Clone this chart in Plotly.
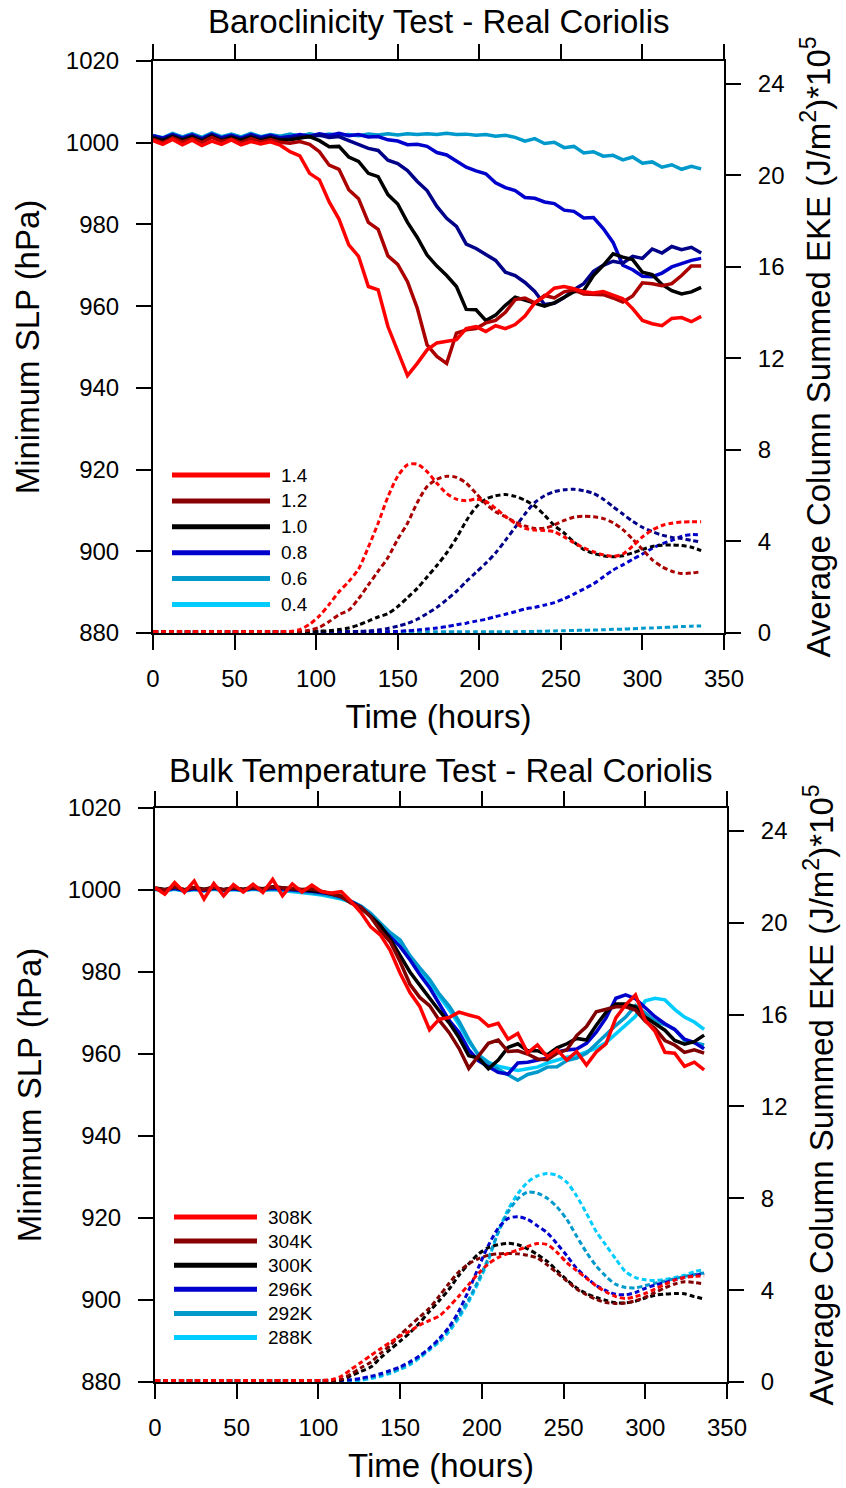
import plotly.graph_objects as go

FIG_W, FIG_H = 846, 1488
FONT = "Liberation Sans, Arial, Helvetica, sans-serif"

# ---------------------------------------------------------------- data
hours = list(range(0, 337, 6))

x_ticks = [0, 50, 100, 150, 200, 250, 300, 350]
slp_ticks = [880, 900, 920, 940, 960, 980, 1000, 1020]
eke_ticks = [0, 4, 8, 12, 16, 20, 24]

# Baroclinicity test: minimum SLP (hPa)
baro_slp_14 = [
    1000.5, 999.6, 1000.8, 999.5, 1000.6, 999.3, 1000.4, 999.6, 1000.7, 999.5,
    1000.3, 999.7, 1000.2, 999.4, 997.8, 996.8, 992.5, 990.9, 985.5, 981.3,
    975.0, 972.2, 964.8, 964.0, 955.0, 949.0, 943.0, 946.0, 949.3, 951.0,
    951.5, 951.8, 954.5, 955.0, 953.8, 955.2, 954.5, 955.5, 957.6, 960.8,
    962.4, 964.4, 964.8, 964.3, 963.5, 963.2, 963.6, 962.8, 961.8, 959.4,
    956.5, 955.7, 955.2, 957.0, 957.2, 956.2, 957.5]
baro_slp_12 = [
    1000.8, 1000.0, 1001.2, 1000.2, 1001.0, 1000.1, 1001.3, 1000.3, 1000.9, 1000.0,
    1001.0, 1000.2, 1000.8, 1000.1, 999.9, 1000.3, 999.6, 997.8, 994.5, 993.5,
    988.5, 986.3, 980.5, 978.8, 972.3, 970.2, 966.0, 959.5, 950.5, 947.7,
    946.0, 953.4, 954.2, 954.5, 955.9, 956.5, 958.5, 961.6, 962.0, 960.8,
    962.6, 962.0, 963.5, 964.0, 963.0, 963.0, 962.8, 962.0, 961.0, 962.5,
    965.7, 965.5, 965.0, 965.5, 967.5, 969.8, 969.8]
baro_slp_10 = [
    1001.2, 1000.5, 1001.5, 1000.6, 1001.4, 1000.4, 1001.6, 1000.5, 1001.3, 1000.6,
    1001.4, 1000.5, 1001.2, 1000.6, 1000.7, 1001.2, 1001.5, 1000.5, 999.0, 999.1,
    996.5, 995.4, 992.5, 991.7, 987.3, 985.0, 980.5, 976.8, 972.5, 969.8,
    967.5, 964.8, 959.2, 959.1, 956.5, 957.8, 960.2, 962.2, 961.5, 960.6,
    960.0, 960.8, 962.2, 963.5, 963.8, 967.5, 970.0, 972.8, 972.0, 971.4,
    968.3, 967.7, 965.3, 963.8, 963.0, 963.5, 964.6]
baro_slp_08 = [
    1001.4, 1000.8, 1001.8, 1000.9, 1001.6, 1000.8, 1001.9, 1000.9, 1001.5, 1000.8,
    1001.7, 1001.0, 1001.5, 1001.0, 1001.1, 1001.6, 1001.4, 1001.9, 1001.3, 1001.5,
    1000.5, 999.6, 998.6, 998.1, 995.7, 994.9, 993.2, 990.5, 988.3, 984.4,
    981.5, 979.5, 975.2, 974.1, 972.6, 971.2, 968.3, 967.5, 965.8, 963.6,
    960.4, 960.7, 962.1, 964.0, 965.5, 968.5, 970.0, 971.0, 970.5, 972.2,
    971.7, 974.0, 973.0, 974.6, 973.8, 974.4, 973.0]
baro_slp_06 = [
    1001.7, 1001.1, 1002.0, 1001.2, 1001.9, 1001.0, 1002.1, 1001.2, 1001.8, 1001.1,
    1002.0, 1001.3, 1001.8, 1001.2, 1001.5, 1002.0, 1001.6, 1002.2, 1001.8, 1002.3,
    1001.7, 1002.0, 1001.4, 1001.5, 1000.7, 1000.4, 999.5, 999.6, 999.1, 997.6,
    997.0, 995.5, 994.0, 993.1, 992.4, 990.2, 989.0, 988.3, 986.6, 986.4,
    985.5, 985.1, 983.5, 983.2, 981.6, 981.7, 979.0, 975.6, 970.0, 968.9,
    967.3, 967.2, 968.1, 969.6, 970.4, 971.2, 971.7]
baro_slp_04 = [
    1001.8, 1001.2, 1002.3, 1001.4, 1002.2, 1001.3, 1002.4, 1001.5, 1002.1, 1001.4,
    1002.3, 1001.5, 1002.0, 1001.6, 1002.1, 1001.6, 1002.2, 1001.7, 1002.1, 1001.8,
    1002.0, 1001.7, 1002.1, 1001.9, 1002.2, 1001.9, 1002.2, 1002.0, 1002.2, 1002.0,
    1002.3, 1002.0, 1002.1, 1001.8, 1002.0, 1001.6, 1001.8, 1001.3, 1000.4, 1001.0,
    999.8, 1000.1, 998.8, 999.1, 997.5, 997.8, 996.7, 996.9, 995.8, 996.5,
    995.0, 995.3, 994.0, 994.6, 993.5, 994.2, 993.6]

# Baroclinicity test: average column summed EKE (J/m^2 * 1e5)
baro_eke_14 = [
    0.06, 0.06, 0.06, 0.06, 0.06, 0.06, 0.06, 0.06, 0.06, 0.06,
    0.06, 0.06, 0.06, 0.06, 0.07, 0.15, 0.38, 0.75, 1.25, 1.80,
    2.25, 2.80, 3.75, 4.80, 5.95, 6.85, 7.35, 7.38, 7.05, 6.55,
    6.10, 5.85, 5.78, 5.85, 5.75, 5.45, 5.10, 4.80, 4.58, 4.50,
    4.48, 4.42, 4.20, 3.95, 3.72, 3.55, 3.42, 3.35, 3.45, 3.80,
    4.20, 4.50, 4.70, 4.80, 4.85, 4.86, 4.86]
baro_eke_12 = [
    0.06, 0.06, 0.06, 0.06, 0.06, 0.06, 0.06, 0.06, 0.06, 0.06,
    0.06, 0.06, 0.06, 0.06, 0.06, 0.07, 0.12, 0.25, 0.50, 0.80,
    1.00, 1.50, 2.10, 2.70, 3.30, 4.10, 4.80, 5.70, 6.40, 6.72,
    6.85, 6.80, 6.55, 6.10, 5.65, 5.30, 5.08, 4.85, 4.68, 4.57,
    4.58, 4.72, 4.92, 5.06, 5.10, 5.08, 5.00, 4.82, 4.52, 4.10,
    3.65, 3.20, 2.90, 2.70, 2.60, 2.62, 2.68]
baro_eke_10 = [
    0.06, 0.06, 0.06, 0.06, 0.06, 0.06, 0.06, 0.06, 0.06, 0.06,
    0.06, 0.06, 0.06, 0.06, 0.06, 0.06, 0.07, 0.08, 0.10, 0.15,
    0.22, 0.35, 0.52, 0.70, 0.85, 1.15, 1.55, 1.95, 2.45, 2.95,
    3.50, 4.15, 4.90, 5.50, 5.85, 6.00, 6.05, 5.97, 5.80, 5.55,
    5.15, 4.70, 4.37, 3.98, 3.65, 3.48, 3.38, 3.33, 3.38, 3.50,
    3.65, 3.78, 3.84, 3.85, 3.82, 3.75, 3.60]
baro_eke_08 = [
    0.06, 0.06, 0.06, 0.06, 0.06, 0.06, 0.06, 0.06, 0.06, 0.06,
    0.06, 0.06, 0.06, 0.06, 0.06, 0.06, 0.06, 0.06, 0.06, 0.06,
    0.06, 0.07, 0.09, 0.13, 0.20, 0.30, 0.42, 0.60, 0.85, 1.12,
    1.45, 1.82, 2.25, 2.65, 3.05, 3.50, 4.05, 4.62, 5.20, 5.70,
    6.00, 6.18, 6.26, 6.28, 6.22, 6.10, 5.85, 5.52, 5.20, 4.88,
    4.62, 4.43, 4.28, 4.18, 4.13, 4.05, 3.98]
baro_eke_06 = [
    0.06, 0.06, 0.06, 0.06, 0.06, 0.06, 0.06, 0.06, 0.06, 0.06,
    0.06, 0.06, 0.06, 0.06, 0.06, 0.06, 0.06, 0.06, 0.06, 0.06,
    0.06, 0.06, 0.06, 0.06, 0.06, 0.07, 0.10, 0.13, 0.17, 0.22,
    0.28, 0.36, 0.43, 0.52, 0.60, 0.72, 0.82, 0.93, 1.05, 1.12,
    1.22, 1.33, 1.50, 1.70, 1.92, 2.15, 2.45, 2.75, 2.98, 3.22,
    3.45, 3.70, 3.90, 4.05, 4.22, 4.30, 4.28]
baro_eke_04 = [
    0.06, 0.06, 0.06, 0.06, 0.06, 0.06, 0.06, 0.06, 0.06, 0.06,
    0.06, 0.06, 0.06, 0.06, 0.06, 0.06, 0.06, 0.06, 0.06, 0.06,
    0.06, 0.06, 0.06, 0.06, 0.06, 0.06, 0.06, 0.06, 0.06, 0.06,
    0.06, 0.06, 0.06, 0.06, 0.06, 0.06, 0.06, 0.06, 0.07, 0.07,
    0.08, 0.09, 0.10, 0.11, 0.12, 0.13, 0.14, 0.16, 0.17, 0.19,
    0.21, 0.22, 0.24, 0.26, 0.28, 0.30, 0.31]

# Bulk temperature test: minimum SLP (hPa)
bulk_slp_308 = [
    1000.6, 999.0, 1001.8, 999.4, 1002.2, 997.8, 1001.6, 998.6, 1001.3, 999.5,
    1001.4, 999.4, 1002.6, 998.6, 1001.5, 999.5, 1001.2, 999.6, 999.3, 999.6,
    997.2, 994.5, 991.0, 989.0, 985.2, 979.7, 975.0, 971.6, 965.9, 968.5,
    968.9, 970.2, 969.5, 968.9, 966.8, 967.5, 963.6, 965.0, 960.3, 962.2,
    959.3, 961.0, 958.5, 960.6, 957.3, 960.5, 962.5, 968.8, 972.0, 974.4,
    968.2, 965.5, 960.4, 960.2, 957.0, 958.0, 956.1]
bulk_slp_304 = [
    1000.4, 1000.0, 1000.8, 1000.0, 1000.6, 1000.1, 1000.7, 1000.0, 1000.6, 1000.1,
    1000.6, 1000.2, 1000.7, 1000.5, 1000.5, 1000.1, 1000.3, 999.6, 999.0, 998.4,
    996.8, 995.8, 993.4, 990.0, 987.3, 982.5, 977.0, 973.8, 971.8, 968.2,
    965.2, 961.4, 956.5, 959.5, 962.6, 963.4, 960.6, 960.8, 960.0, 958.8,
    958.6, 960.2, 961.0, 964.5, 966.7, 970.3, 971.0, 971.5, 971.5, 970.7,
    968.0, 966.2, 963.3, 962.2, 960.4, 961.0, 960.2]
bulk_slp_300 = [
    1000.5, 1000.1, 1000.7, 1000.1, 1000.6, 1000.2, 1000.6, 1000.1, 1000.5, 1000.2,
    1000.6, 1000.3, 1000.8, 1000.6, 1000.4, 1000.2, 1000.0, 999.6, 999.0, 998.5,
    997.0, 995.6, 993.6, 991.3, 988.0, 984.0, 980.0, 976.8, 973.6, 970.5,
    967.6, 964.0, 959.6, 959.0, 956.4, 958.5, 961.6, 962.5, 960.8, 960.8,
    959.8, 961.5, 962.5, 963.8, 963.4, 967.0, 970.2, 972.2, 972.2, 971.5,
    969.0, 967.5, 965.8, 963.3, 962.4, 963.0, 964.6]
bulk_slp_296 = [
    1000.3, 1000.0, 1000.4, 999.9, 1000.3, 999.9, 1000.4, 1000.0, 1000.3, 1000.0,
    1000.4, 1000.1, 1000.4, 1000.3, 1000.2, 999.9, 999.7, 999.4, 999.0, 998.3,
    997.2, 995.8, 993.6, 991.0, 988.6, 986.2, 983.0, 979.4, 976.2, 972.0,
    968.2, 965.3, 961.0, 958.3, 957.0, 955.5, 955.1, 957.8, 958.0, 958.6,
    959.0, 960.5, 961.0, 961.2, 962.6, 965.3, 968.8, 973.6, 974.4, 973.5,
    971.4, 969.1, 967.4, 966.0, 963.6, 962.8, 961.3]
bulk_slp_292 = [
    1000.2, 999.9, 1000.3, 999.8, 1000.2, 999.8, 1000.3, 999.9, 1000.2, 999.9,
    1000.3, 1000.0, 1000.2, 1000.1, 999.9, 999.6, 999.4, 999.0, 998.6, 998.0,
    997.3, 996.1, 994.3, 991.9, 989.6, 987.8, 984.0, 981.0, 978.2, 974.6,
    971.7, 968.0, 963.5, 959.6, 957.8, 956.3, 955.0, 953.6, 955.0, 955.6,
    956.8, 956.9, 958.4, 959.0, 960.2, 962.5, 964.6, 967.0, 969.0, 971.8,
    970.0, 968.0, 967.2, 966.0, 963.3, 962.8, 962.2]
bulk_slp_288 = [
    1000.1, 999.8, 1000.2, 999.7, 1000.1, 999.8, 1000.2, 999.8, 1000.1, 999.8,
    1000.2, 999.9, 1000.1, 999.9, 999.7, 999.4, 999.1, 998.8, 998.3, 997.8,
    997.0, 995.8, 993.8, 991.5, 989.2, 987.0, 983.5, 980.5, 977.5, 974.0,
    970.8, 967.2, 963.0, 959.8, 958.0, 957.0, 956.4, 956.0, 956.4, 956.8,
    957.8, 958.5, 959.2, 959.6, 960.4, 961.4, 962.8, 964.9, 967.0, 969.2,
    973.0, 973.6, 973.2, 970.9, 969.0, 967.8, 966.0]

# Bulk temperature test: average column summed EKE (J/m^2 * 1e5)
bulk_eke_308 = [
    0.06, 0.06, 0.06, 0.06, 0.06, 0.06, 0.06, 0.06, 0.06, 0.06,
    0.06, 0.06, 0.06, 0.06, 0.06, 0.06, 0.06, 0.07, 0.10, 0.25,
    0.55, 0.85, 1.15, 1.45, 1.73, 2.00, 2.22, 2.48, 2.68, 2.88,
    3.28, 3.75, 4.25, 4.73, 5.15, 5.42, 5.60, 5.75, 5.90, 6.03,
    5.98, 5.65, 5.20, 4.85, 4.52, 4.18, 3.92, 3.72, 3.64, 3.72,
    3.86, 4.05, 4.25, 4.44, 4.55, 4.60, 4.62]
bulk_eke_304 = [
    0.06, 0.06, 0.06, 0.06, 0.06, 0.06, 0.06, 0.06, 0.06, 0.06,
    0.06, 0.06, 0.06, 0.06, 0.06, 0.06, 0.06, 0.06, 0.07, 0.12,
    0.35, 0.62, 0.86, 1.25, 1.60, 2.05, 2.45, 2.84, 3.22, 3.75,
    4.30, 4.80, 5.15, 5.37, 5.52, 5.58, 5.60, 5.58, 5.52, 5.40,
    5.10, 4.75, 4.40, 4.05, 3.80, 3.60, 3.46, 3.42, 3.44, 3.54,
    3.70, 3.90, 4.10, 4.27, 4.37, 4.33, 4.27]
bulk_eke_300 = [
    0.06, 0.06, 0.06, 0.06, 0.06, 0.06, 0.06, 0.06, 0.06, 0.06,
    0.06, 0.06, 0.06, 0.06, 0.06, 0.06, 0.06, 0.06, 0.06, 0.09,
    0.28, 0.46, 0.65, 1.05, 1.42, 1.78, 2.15, 2.58, 3.08, 3.55,
    4.05, 4.65, 5.15, 5.58, 5.85, 5.98, 6.04, 5.98, 5.80, 5.55,
    5.25, 4.85, 4.45, 4.10, 3.85, 3.68, 3.55, 3.45, 3.45, 3.52,
    3.66, 3.78, 3.83, 3.85, 3.84, 3.72, 3.62]
bulk_eke_296 = [
    0.06, 0.06, 0.06, 0.06, 0.06, 0.06, 0.06, 0.06, 0.06, 0.06,
    0.06, 0.06, 0.06, 0.06, 0.06, 0.06, 0.06, 0.06, 0.06, 0.07,
    0.10, 0.16, 0.25, 0.36, 0.50, 0.66, 0.88, 1.15, 1.48, 1.90,
    2.40, 3.10, 4.00, 5.00, 5.95, 6.70, 7.12, 7.20, 7.08, 6.80,
    6.50, 6.02, 5.50, 4.95, 4.55, 4.20, 3.98, 3.82, 3.80, 3.90,
    4.08, 4.22, 4.34, 4.45, 4.55, 4.65, 4.72]
bulk_eke_292 = [
    0.06, 0.06, 0.06, 0.06, 0.06, 0.06, 0.06, 0.06, 0.06, 0.06,
    0.06, 0.06, 0.06, 0.06, 0.06, 0.06, 0.06, 0.06, 0.06, 0.07,
    0.08, 0.12, 0.20, 0.30, 0.42, 0.60, 0.82, 1.10, 1.45, 1.82,
    2.30, 2.90, 3.60, 4.45, 5.40, 6.50, 7.40, 7.98, 8.27, 8.22,
    8.00, 7.62, 7.08, 6.35, 5.65, 5.05, 4.60, 4.25, 4.12, 4.10,
    4.20, 4.30, 4.40, 4.50, 4.60, 4.68, 4.75]
bulk_eke_288 = [
    0.06, 0.06, 0.06, 0.06, 0.06, 0.06, 0.06, 0.06, 0.06, 0.06,
    0.06, 0.06, 0.06, 0.06, 0.06, 0.06, 0.06, 0.06, 0.06, 0.06,
    0.06, 0.08, 0.15, 0.25, 0.38, 0.55, 0.75, 1.05, 1.40, 1.75,
    2.20, 2.80, 3.50, 4.35, 5.30, 6.55, 7.50, 8.20, 8.70, 8.98,
    9.08, 9.00, 8.70, 8.10, 7.35, 6.55, 5.95, 5.35, 4.80, 4.55,
    4.45, 4.42, 4.47, 4.55, 4.65, 4.80, 4.90]

# legend entries (label, swatch colour) for each panel
baro_labels = ["1.4", "1.2", "1.0", "0.8", "0.6", "0.4"]
bulk_labels = ["308K", "304K", "300K", "296K", "292K", "288K"]
legend_colors = ["#FF0000", "#880000", "#000000", "#0000CC", "#0099CC", "#00CCFF"]

# colours of the plotted curves
baro_colors = ["#FF0000", "#AA0000", "#000000", "#000088", "#0000CC", "#0099CC"]
bulk_colors = ["#FF0000", "#800000", "#000000", "#0000CC", "#0099CC", "#00CCFF"]

baro_slp = [baro_slp_14, baro_slp_12, baro_slp_10, baro_slp_08, baro_slp_06, baro_slp_04]
baro_eke = [baro_eke_14, baro_eke_12, baro_eke_10, baro_eke_08, baro_eke_06, baro_eke_04]
bulk_slp = [bulk_slp_308, bulk_slp_304, bulk_slp_300, bulk_slp_296, bulk_slp_292, bulk_slp_288]
bulk_eke = [bulk_eke_308, bulk_eke_304, bulk_eke_300, bulk_eke_296, bulk_eke_292, bulk_eke_288]


# ---------------------------------------------------------------- layout helpers
def fx(px):
    return px / FIG_W


def fy(px):
    return 1 - px / FIG_H


panels = [
    dict(title="Baroclinicity Test - Real Coriolis", slp=baro_slp, eke=baro_eke,
         labels=baro_labels, colors=baro_colors,
         box=(153, 724, 61, 633), title_y=22,
         leg=dict(x0=172, x1=270, y0=475, dy=25.9, tx=279),
         xa="x", yl="y", yr="y2"),
    dict(title="Bulk Temperature Test - Real Coriolis", slp=bulk_slp, eke=bulk_eke,
         labels=bulk_labels, colors=bulk_colors,
         box=(155, 727, 808, 1382), title_y=770,
         leg=dict(x0=174, x1=257, y0=1217, dy=24.1, tx=266),
         xa="x2", yl="y3", yr="y4"),
]

fig = go.Figure()

TITLE_FONT = dict(family=FONT, size=33, color="black")
axis_style = dict(
    showline=True, linewidth=2, linecolor="black",
    ticks="outside", ticklen=15, tickwidth=2, tickcolor="black",
    showgrid=False, zeroline=False, automargin=False,
    tickfont=dict(family=FONT, size=24, color="black"),
)

annotations = []
shapes = []

for p in panels:
    # pressure curves (drawn last-to-first so the first series sits on top)
    for vals, col, lab in reversed(list(zip(p["slp"], p["colors"], p["labels"]))):
        fig.add_trace(go.Scatter(
            x=hours, y=vals, mode="lines", name=lab, showlegend=False,
            line=dict(color=col, width=3.5),
            xaxis=p["xa"], yaxis=p["yl"]))
    # eddy kinetic energy curves
    for vals, col, lab in reversed(list(zip(p["eke"], p["colors"], p["labels"]))):
        fig.add_trace(go.Scatter(
            x=hours, y=vals, mode="lines", name=lab + " EKE", showlegend=False,
            line=dict(color=col, width=3, dash="5px,3px", shape="spline", smoothing=0.8),
            xaxis=p["xa"], yaxis=p["yr"]))

    x0, x1, y0, y1 = p["box"]
    annotations.append(
        dict(text=p["title"], x=fx((x0 + x1) / 2), y=fy(p["title_y"]),
             xref="paper", yref="paper", showarrow=False,
             xanchor="center", yanchor="middle", font=TITLE_FONT))

    lg = p["leg"]
    for i, (lab, col) in enumerate(zip(p["labels"], legend_colors)):
        yy = lg["y0"] + i * lg["dy"]
        shapes.append(dict(type="line", xref="paper", yref="paper",
                           x0=fx(lg["x0"]), x1=fx(lg["x1"]), y0=fy(yy), y1=fy(yy),
                           line=dict(color=col, width=5)))
        annotations.append(dict(text=lab, x=fx(lg["tx"]), y=fy(yy), xref="paper", yref="paper",
                                showarrow=False, xanchor="left", yanchor="middle",
                                font=dict(family=FONT, size=19, color="black")))

x_title = dict(text="Time (hours)", font=TITLE_FONT, standoff=14)
slp_title = dict(text="Minimum SLP (hPa)", font=TITLE_FONT, standoff=16)
eke_title = dict(text="Average Column Summed EKE (J/m<sup>2</sup>)*10<sup>5</sup>",
                 font=TITLE_FONT, standoff=23)

top, bot = panels
fig.update_layout(
    width=FIG_W, height=FIG_H,
    margin=dict(l=0, r=0, t=0, b=0),
    paper_bgcolor="white", plot_bgcolor="white",
    showlegend=False,
    xaxis=dict(domain=[fx(top["box"][0]), fx(top["box"][1])], range=[0, 350],
               tickvals=x_ticks, anchor="y", mirror="ticks", ticklabelstandoff=8,
               title=x_title, **axis_style),
    yaxis=dict(domain=[fy(top["box"][3]), fy(top["box"][2])], range=[880, 1020],
               tickvals=slp_ticks, anchor="x", ticklabelstandoff=12,
               title=slp_title, **axis_style),
    yaxis2=dict(range=[0, 25], tickvals=eke_ticks, overlaying="y", side="right",
                anchor="x", ticklabelstandoff=12, title=eke_title, **axis_style),
    xaxis2=dict(domain=[fx(bot["box"][0]), fx(bot["box"][1])], range=[0, 350],
                tickvals=x_ticks, anchor="y3", mirror="ticks", ticklabelstandoff=8,
                title=x_title, **axis_style),
    yaxis3=dict(domain=[fy(bot["box"][3]), fy(bot["box"][2])], range=[880, 1020],
                tickvals=slp_ticks, anchor="x2", ticklabelstandoff=12,
                title=slp_title, **axis_style),
    yaxis4=dict(range=[0, 25], tickvals=eke_ticks, overlaying="y3", side="right",
                anchor="x2", ticklabelstandoff=12, title=eke_title, **axis_style),
    annotations=annotations,
    shapes=shapes,
)

fig.write_html("out.html")
